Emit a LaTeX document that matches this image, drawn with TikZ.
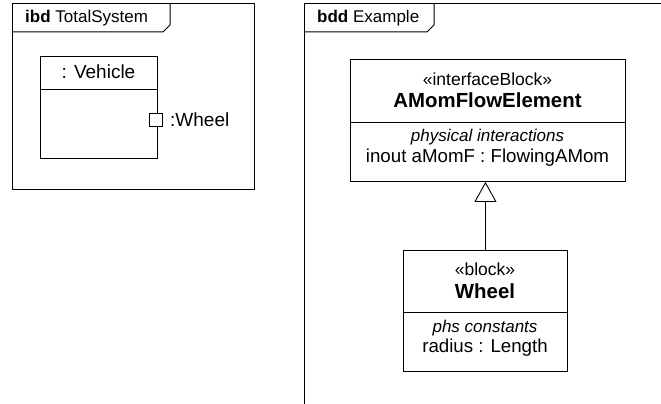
\documentclass[tikz,border=0pt]{standalone}
\usepackage{fontspec}
\setmainfont{Liberation Sans}
\usetikzlibrary{arrows.meta}
\tikzset{
  frameline/.style={draw=black, line width=1pt},
  boxline/.style={draw=black, line width=0.9pt},
  blockbox/.style={boxline, fill=white, inner sep=0pt, anchor=north west},
  txt/.style={inner sep=0pt, font=\fontsize{18.7}{22}\selectfont},
  frametxt/.style={inner sep=0pt, font=\fontsize{17}{20}\selectfont},
  sttxt/.style={inner sep=0pt, font=\fontsize{17.5}{21}\selectfont},
  itxt/.style={inner sep=0pt, font=\fontsize{17}{20}\selectfont\itshape},
  btxt/.style={inner sep=0pt, font=\fontsize{20.4}{24}\selectfont\bfseries},
  parttxt/.style={inner sep=0pt, font=\fontsize{19}{22}\selectfont},
  generalization/.style={boxline, -{Triangle[open, width=22pt, length=20pt, line width=0.9pt]}}
}
\begin{document}
\begin{tikzpicture}[x=1pt, y=-1pt]
\useasboundingbox (0,0) rectangle (661,404);
% ---- left frame (ibd)
\draw[frameline] (12,4) rectangle (254,189);
\draw[frameline] (12,32) -- (163,32) -- (170,25) -- (170,4);
\node[frametxt, anchor=west] (ibdlabel) at (25,18) {\textbf{ibd} TotalSystem};
% Vehicle part
\node[blockbox, minimum width=117pt, minimum height=102pt] (veh) at (40,56) {};
\draw[boxline] (40,89) -- (157,89);
\node[parttxt] (vehname) at (98.5,72) {: Vehicle};
\node[boxline, fill=white, minimum size=13pt, inner sep=0pt] (port) at (155.5,119.5) {};
\node[parttxt, anchor=west] (portname) at (170,120) {:Wheel};
% ---- right frame (bdd)
\draw[frameline] (661,4) -- (304,4) -- (304,404);
\draw[frameline] (304,32) -- (427,32) -- (434,25) -- (434,4);
\node[frametxt, anchor=west] (bddlabel) at (317,18) {\textbf{bdd} Example};
% AMomFlowElement
\node[blockbox, minimum width=275pt, minimum height=122pt] (amom) at (350,59) {};
\draw[boxline] (350,122) -- (625,122);
\node[sttxt] (amomst) at (487.5,79) {«interfaceBlock»};
\node[btxt] (amomname) at (487.5,100.5) {AMomFlowElement};
\node[itxt] (amomcomp) at (487.5,137) {physical interactions};
\node[txt] (amomprop) at (487.5,158) {inout aMomF : FlowingAMom};
% Wheel
\node[blockbox, minimum width=164pt, minimum height=121pt] (wheel) at (403,250) {};
\draw[boxline] (403,312) -- (567,312);
\node[sttxt] (wheelst) at (485,269) {«block»};
\node[btxt] (wheelname) at (485,291.5) {Wheel};
\node[itxt] (wheelcomp) at (485,328) {phs constants};
\node[txt] (wheelprop) at (485,348) {radius : Length};
% generalization
\draw[generalization] (wheel.north) -- (wheel.north |- amom.south);
\end{tikzpicture}
\end{document}
